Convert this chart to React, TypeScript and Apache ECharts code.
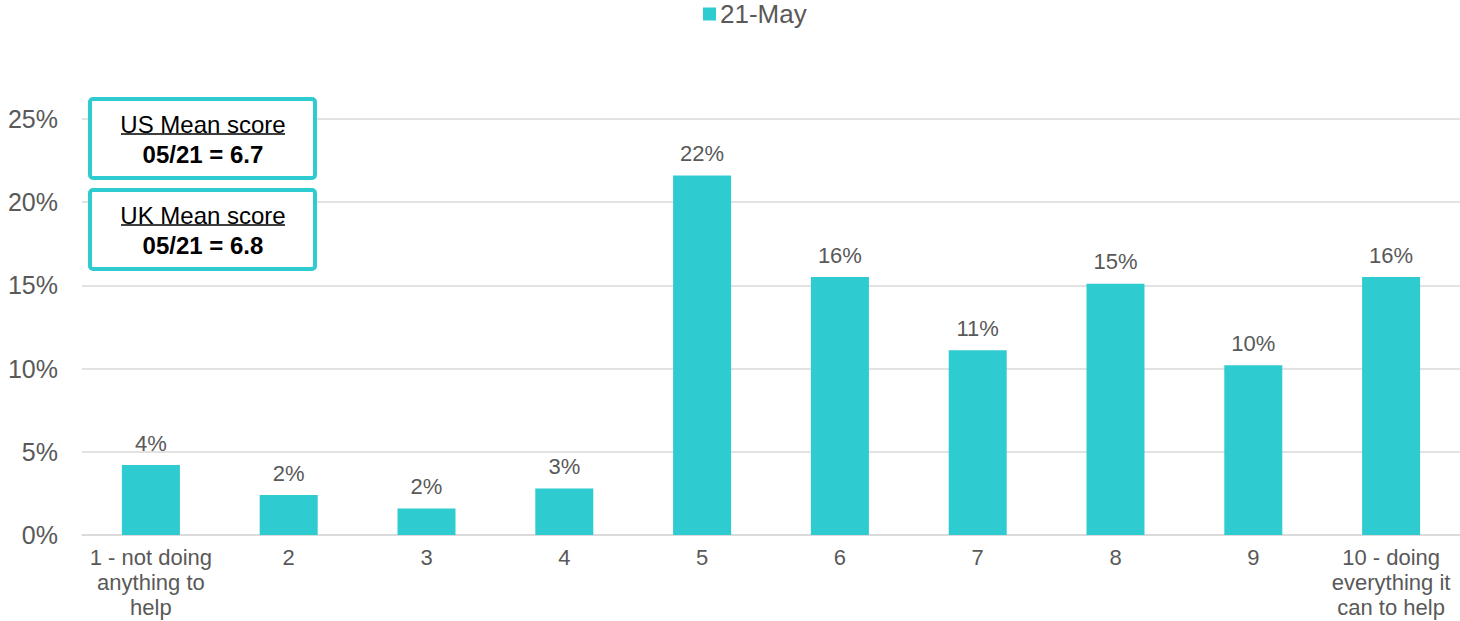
import React, { useEffect, useRef } from "react";
import * as echarts from "echarts";

const categories = [
  "1 - not doing\nanything to\nhelp",
  "2",
  "3",
  "4",
  "5",
  "6",
  "7",
  "8",
  "9",
  "10 - doing\neverything it\ncan to help",
];
const seriesName = "21-May";
const values = [4.2, 2.4, 1.6, 2.8, 21.6, 15.5, 11.1, 15.1, 10.2, 15.5];
const yTicks = { min: 0, max: 25, interval: 5 };
const boxTexts = [
  { title: "US Mean score", value: "05/21 = 6.7" },
  { title: "UK Mean score", value: "05/21 = 6.8" },
];

const TEAL = "#2ECBD1";
const GRAY = "#595959";
const FONT = "'Liberation Sans', Arial, sans-serif";

export default function App() {
  const ref = useRef<HTMLDivElement>(null);
  useEffect(() => {
    if (!ref.current) return;
    const chart = echarts.init(ref.current, undefined, { renderer: "svg" });
    const graphics: any[] = [];
    boxTexts.forEach((b, i) => {
      const top = 97 + i * 91;
      graphics.push({
        type: "rect",
        shape: { x: 90, y: top + 2, width: 225, height: 79, r: 3 },
        style: { fill: "#fff", stroke: TEAL, lineWidth: 4 },
        z: 10,
      });
      graphics.push({
        type: "text",
        x: 203,
        y: top + 27,
        style: {
          text: b.title,
          fill: "#000",
          font: `24px ${FONT}`,
          align: "center",
          verticalAlign: "middle",
        },
        z: 11,
      });
      graphics.push({
        type: "line",
        shape: { x1: 121, y1: top + 37, x2: 285, y2: top + 37 },
        style: { stroke: "#000", lineWidth: 1.5 },
        z: 11,
      });
      graphics.push({
        type: "text",
        x: 203,
        y: top + 57,
        style: {
          text: b.value,
          fill: "#000",
          font: `bold 24px ${FONT}`,
          align: "center",
          verticalAlign: "middle",
        },
        z: 11,
      });
    });

    chart.setOption({
      animation: false,
      textStyle: { fontFamily: FONT },
      legend: {
        top: 1,
        left: 703,
        padding: 0,
        itemWidth: 13,
        itemHeight: 13,
        itemGap: 5,
        icon: "rect",
        textStyle: { fontSize: 26, color: GRAY, fontFamily: FONT, padding: [0, 0, 0, -1] },
        data: [seriesName],
      },
      grid: { left: 82, right: -2, top: 119, bottom: 86, containLabel: false },
      xAxis: {
        type: "category",
        data: categories,
        axisLine: { show: true, lineStyle: { color: "#D9D9D9", width: 1.5 } },
        axisTick: { show: false },
        axisLabel: {
          color: GRAY,
          fontSize: 22,
          lineHeight: 25,
          margin: 10,
          interval: 0,
          fontFamily: FONT,
        },
      },
      yAxis: {
        type: "value",
        min: yTicks.min,
        max: yTicks.max,
        interval: yTicks.interval,
        axisLine: { show: false },
        axisTick: { show: false },
        splitLine: { lineStyle: { color: "#D9D9D9", width: 1.5 } },
        axisLabel: {
          color: GRAY,
          fontSize: 25,
          margin: 24,
          formatter: "{value}%",
          fontFamily: FONT,
        },
      },
      series: [
        {
          name: seriesName,
          type: "bar",
          data: values,
          barWidth: 58,
          itemStyle: { color: TEAL },
          label: {
            show: true,
            position: "top",
            distance: 11,
            color: GRAY,
            fontSize: 22,
            fontFamily: FONT,
            formatter: (p: any) => Math.round(p.value) + "%",
          },
        },
      ],
      graphic: graphics,
    });
    return () => chart.dispose();
  }, []);
  return (
    <div
      ref={ref}
      style={{ position: "fixed", left: 0, top: 0, width: 1460, height: 621, background: "#fff" }}
    />
  );
}
